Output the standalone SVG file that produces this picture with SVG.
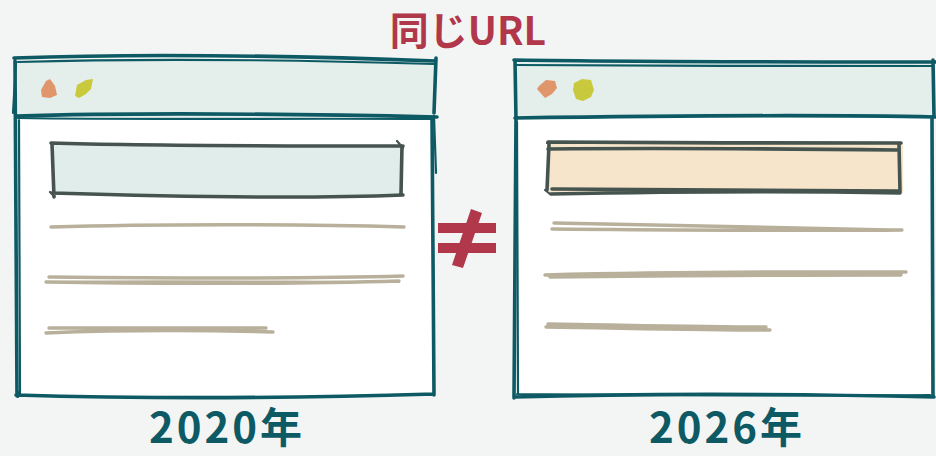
<svg xmlns="http://www.w3.org/2000/svg" width="936" height="456" viewBox="0 0 936 456">
<style>
.frame{fill:none;stroke:#0e5a64;stroke-width:3.6;stroke-linecap:round;stroke-linejoin:round}
.frame2{fill:none;stroke:#0e5a64;stroke-width:2.2;stroke-linecap:round}
.box{fill:none;stroke:#45544f;stroke-width:3.6;stroke-linecap:round;stroke-linejoin:round}
.box2{fill:none;stroke:#45544f;stroke-width:2.2;stroke-linecap:round}
.line{fill:none;stroke:#b8b09a;stroke-width:3.4;stroke-linecap:round}
.line2{fill:none;stroke:#b8b09a;stroke-width:2;stroke-linecap:round}
.title{font-family:"Noto Sans CJK JP","Noto Sans",sans-serif;font-weight:700;fill:#b0384a}
.year{font-family:"Noto Sans CJK JP","Noto Sans",sans-serif;font-weight:700;fill:#0e5a64;text-anchor:middle;letter-spacing:3px}
</style>
<rect x="0" y="0" width="936" height="456" fill="#f3f5f4"/>
<text class="title" x="468" y="45" font-size="39" text-anchor="middle">同じURL</text>

<g id="window-2020">
  <rect x="16" y="60" width="419" height="57" fill="#e4eeeb"/>
  <rect x="18" y="117" width="414" height="278" fill="#ffffff"/>
  <path class="frame" d="M14 58 C150 53 300 56 436 61 M15 61 L17 396 M436 58 L434 113 M432 117 L434 395 M16 116 C150 112 300 114 437 117 M16 395 C150 399 300 398 434 394"/>
  <path class="frame2" d="M18 62 C150 58 300 60 434 64 M19 120 L20 394 M13 113 L16 62 M434 116 L436 173 M18 118 C150 120 300 118 432 119 M18 392 L18 397"/>
  <path fill="#e0956a" d="M46 81 L50 79 L55 86 L57 95 L50 98 L42 97 L41 90 Z"/>
  <path fill="#c9c93e" d="M77 85 L86 80 L93 79 L91 89 L86 94 L79 98 L75 96 Z"/>
  <rect x="52" y="145" width="350" height="50" fill="#e0edea"/>
  <path class="box" d="M51 143 C150 146 300 146 403 146 M52 144 L54 197 M402 146 L401 194 M52 193 C150 196 300 199 403 195"/>
  <path class="box2" d="M397 141 L403 148 M50 192 L54 196"/>
  <path class="line" d="M51 227 C150 224 300 224 404 227"/>
  <path class="line" d="M46 282 C150 284 300 284 399 281 M49 277 C150 278 300 279 403 276"/>
  <path class="line2" d="M46 282 C150 280 300 282 399 282"/>
  <path class="line" d="M46 333 C120 330 200 330 273 332 M49 328 C120 328 200 328 266 328"/>
</g>

<g id="window-2026">
  <rect x="516" y="62" width="417" height="56" fill="#e4eeeb"/>
  <rect x="517" y="118" width="416" height="278" fill="#ffffff"/>
  <path class="frame" d="M514 60 C650 62 800 62 936 62 M515 61 L516 120 M933 60 L934 116 M515 118 C650 116 800 114 935 117 M516 118 L514 398 M932 118 L933 396 M514 397 C650 393 800 394 934 397"/>
  <path class="frame2" d="M516 65 C650 66 800 66 933 66 M517 394 C650 395 800 396 930 395 M517 122 L518 394"/>
  <path fill="#e0956a" d="M539 86 L546 80 L555 81 L557 88 L552 94 L545 98 L537 89 Z"/>
  <path fill="#c9c93e" d="M574 83 L582 79 L591 80 L594 90 L591 97 L583 101 L576 99 L573 90 Z"/>
  <rect x="549" y="143" width="354" height="50" fill="#f6e4cb"/>
  <path class="box" d="M548 142 C650 143 800 143 901 143 M548 149 C650 148 800 149 897 150 M549 144 L547 190 M899 144 L900 192 M551 194 C650 192 800 191 900 193 M552 189 C650 190 800 190 898 191"/>
  <path class="box2" d="M547 143 L553 142 M545 190 L550 194"/>
  <path class="line" d="M554 223 C700 226 800 229 902 230 M552 229 C700 230 800 231 902 230"/>
  <path class="line" d="M545 275 C700 271 800 272 906 272 M550 277 C700 275 800 275 901 275"/>
  <path class="line" d="M546 327 C620 328 700 330 770 330 M548 324 C620 325 700 327 766 327"/>
</g>

<g id="not-equal" fill="#b0384a">
  <rect x="438" y="223" width="58" height="10"/>
  <rect x="438" y="243" width="58" height="10"/>
  <path d="M471 209 L482 213 L463 268 L452 265 Z"/>
</g>

<text class="year" x="227" y="443" font-size="42">2020年</text>
<text class="year" x="727" y="443" font-size="42">2026年</text>
</svg>
